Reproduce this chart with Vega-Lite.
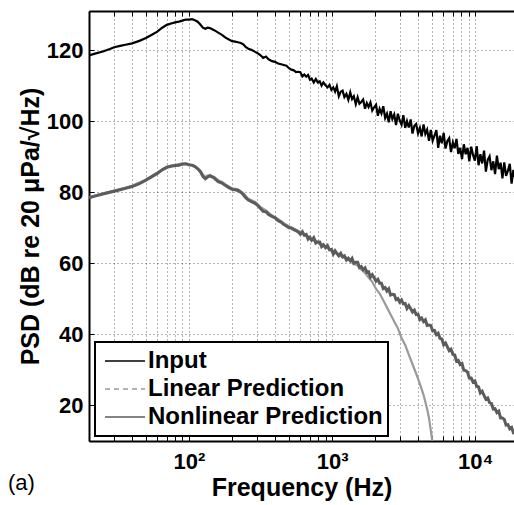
{
"$schema": "https://vega.github.io/schema/vega-lite/v6.json",
"autosize": "none",
"width": 425,
"height": 430,
"padding": {"left": 89, "top": 11, "right": 0, "bottom": 64},
"background": "white",
"config": {
  "font": "Liberation Sans",
  "view": {"stroke": null},
  "axis": {"labelFont": "Liberation Sans", "labelFontSize": 22, "labelFontWeight": "bold", "labelColor": "#000", "titleFont": "Liberation Sans", "titleFontSize": 25, "titleFontWeight": "bold", "titleColor": "#000", "domainColor": "#000", "domainWidth": 2, "tickColor": "#000", "tickWidth": 1, "gridColor": "#000", "gridDash": [1, 3], "gridOpacity": 0.6, "gridWidth": 1}
},
"title": {"text": "(a)", "orient": "bottom", "anchor": "start", "frame": "group", "fontSize": 22, "fontWeight": "normal", "font": "Liberation Sans", "color": "#000", "dx": -81, "offset": -27},
"datasets": {"psd": [
{"s":"Input","f":20,"v":118.5},{"s":"Input","f":22,"v":119.0},{"s":"Input","f":25,"v":119.6},{"s":"Input","f":28,"v":120.3},{"s":"Input","f":30,"v":120.8},{"s":"Input","f":33,"v":121.2},{"s":"Input","f":36,"v":121.5},{"s":"Input","f":40,"v":121.9},{"s":"Input","f":45,"v":122.6},{"s":"Input","f":50,"v":123.4},{"s":"Input","f":55,"v":124.3},{"s":"Input","f":60,"v":125.2},{"s":"Input","f":65,"v":126.3},{"s":"Input","f":70,"v":127.1},{"s":"Input","f":75,"v":127.5},{"s":"Input","f":80,"v":127.8},{"s":"Input","f":85,"v":128.0},{"s":"Input","f":90,"v":128.3},{"s":"Input","f":95,"v":128.6},{"s":"Input","f":100,"v":128.6},{"s":"Input","f":105,"v":128.7},{"s":"Input","f":110,"v":128.4},{"s":"Input","f":115,"v":128.0},{"s":"Input","f":120,"v":127.2},{"s":"Input","f":125,"v":126.3},{"s":"Input","f":130,"v":126.0},{"s":"Input","f":135,"v":126.3},{"s":"Input","f":140,"v":126.2},{"s":"Input","f":150,"v":125.6},{"s":"Input","f":160,"v":124.9},{"s":"Input","f":170,"v":124.3},{"s":"Input","f":180,"v":123.5},{"s":"Input","f":190,"v":123.0},{"s":"Input","f":200,"v":122.5},{"s":"Input","f":210,"v":122.4},{"s":"Input","f":220,"v":122.2},{"s":"Input","f":230,"v":122.0},{"s":"Input","f":240,"v":121.6},{"s":"Input","f":250,"v":120.8},{"s":"Input","f":260,"v":120.4},{"s":"Input","f":275,"v":120.0},{"s":"Input","f":290,"v":119.5},{"s":"Input","f":300,"v":119.2},{"s":"Input","f":315,"v":118.6},{"s":"Input","f":330,"v":117.8},{"s":"Input","f":345,"v":118.2},{"s":"Input","f":360,"v":117.4},{"s":"Input","f":380,"v":116.9},{"s":"Input","f":400,"v":116.7},{"s":"Input","f":420,"v":116.2},{"s":"Input","f":440,"v":116.0},{"s":"Input","f":460,"v":115.8},{"s":"Input","f":480,"v":115.6},{"s":"Input","f":500,"v":114.9},{"s":"Input","f":520,"v":114.5},{"s":"Input","f":540,"v":114.3},{"s":"Input","f":560,"v":113.8},{"s":"Input","f":580,"v":113.9},
{"s":"Input","f":600,"v":113.8},{"s":"Input","f":620,"v":112.6},{"s":"Input","f":640,"v":113.1},{"s":"Input","f":660,"v":112.5},{"s":"Input","f":680,"v":113.0},{"s":"Input","f":700,"v":111.7},{"s":"Input","f":720,"v":112.0},{"s":"Input","f":745,"v":110.9},{"s":"Input","f":770,"v":111.9},{"s":"Input","f":795,"v":110.9},{"s":"Input","f":820,"v":111.2},{"s":"Input","f":845,"v":110.0},{"s":"Input","f":870,"v":110.9},{"s":"Input","f":900,"v":110.1},{"s":"Input","f":930,"v":109.5},{"s":"Input","f":960,"v":110.2},{"s":"Input","f":990,"v":108.8},{"s":"Input","f":1020,"v":109.5},{"s":"Input","f":1050,"v":108.3},{"s":"Input","f":1080,"v":109.8},{"s":"Input","f":1115,"v":107.0},{"s":"Input","f":1150,"v":108.3},{"s":"Input","f":1185,"v":108.6},{"s":"Input","f":1220,"v":106.8},{"s":"Input","f":1260,"v":107.7},{"s":"Input","f":1300,"v":106.0},{"s":"Input","f":1340,"v":108.1},{"s":"Input","f":1380,"v":106.2},{"s":"Input","f":1420,"v":107.0},{"s":"Input","f":1465,"v":104.8},{"s":"Input","f":1510,"v":106.7},{"s":"Input","f":1555,"v":104.9},{"s":"Input","f":1600,"v":105.4},{"s":"Input","f":1650,"v":106.1},{"s":"Input","f":1700,"v":103.5},{"s":"Input","f":1750,"v":105.1},{"s":"Input","f":1800,"v":104.0},{"s":"Input","f":1855,"v":105.3},{"s":"Input","f":1910,"v":103.0},{"s":"Input","f":1970,"v":103.9},{"s":"Input","f":2030,"v":104.6},{"s":"Input","f":2090,"v":101.5},{"s":"Input","f":2150,"v":103.5},{"s":"Input","f":2215,"v":102.2},{"s":"Input","f":2280,"v":104.2},{"s":"Input","f":2350,"v":100.9},{"s":"Input","f":2420,"v":102.1},{"s":"Input","f":2490,"v":99.7},{"s":"Input","f":2565,"v":102.8},{"s":"Input","f":2640,"v":100.6},{"s":"Input","f":2720,"v":101.9},{"s":"Input","f":2800,"v":98.9},{"s":"Input","f":2885,"v":102.1},{"s":"Input","f":2970,"v":100.2},{"s":"Input","f":3060,"v":99.0},{"s":"Input","f":3150,"v":101.7},{"s":"Input","f":3245,"v":98.1},{"s":"Input","f":3340,"v":100.0},{"s":"Input","f":3440,"v":98.2},{"s":"Input","f":3545,"v":100.5},{"s":"Input","f":3650,"v":96.5},{"s":"Input","f":3760,"v":98.7},{"s":"Input","f":3870,"v":99.2},{"s":"Input","f":3990,"v":96.6},{"s":"Input","f":4110,"v":98.1},{"s":"Input","f":4230,"v":95.7},{"s":"Input","f":4360,"v":99.1},{"s":"Input","f":4490,"v":96.4},{"s":"Input","f":4620,"v":97.6},{"s":"Input","f":4760,"v":94.5},{"s":"Input","f":4900,"v":97.5},{"s":"Input","f":5050,"v":94.5},{"s":"Input","f":5200,"v":95.9},{"s":"Input","f":5360,"v":97.5},{"s":"Input","f":5520,"v":92.5},{"s":"Input","f":5680,"v":95.9},{"s":"Input","f":5850,"v":93.8},{"s":"Input","f":6030,"v":96.7},{"s":"Input","f":6210,"v":92.3},{"s":"Input","f":6400,"v":94.4},{"s":"Input","f":6590,"v":95.2},{"s":"Input","f":6780,"v":91.3},{"s":"Input","f":6990,"v":94.0},{"s":"Input","f":7200,"v":92.4},{"s":"Input","f":7410,"v":95.0},{"s":"Input","f":7630,"v":90.8},{"s":"Input","f":7860,"v":92.5},{"s":"Input","f":8100,"v":89.3},{"s":"Input","f":8340,"v":93.5},{"s":"Input","f":8590,"v":90.7},{"s":"Input","f":8850,"v":92.5},{"s":"Input","f":9110,"v":88.7},{"s":"Input","f":9390,"v":92.8},{"s":"Input","f":9670,"v":90.5},{"s":"Input","f":9960,"v":88.9},{"s":"Input","f":10260,"v":93.0},{"s":"Input","f":10570,"v":87.6},{"s":"Input","f":10880,"v":90.7},{"s":"Input","f":11210,"v":88.1},{"s":"Input","f":11550,"v":91.7},{"s":"Input","f":11890,"v":85.8},{"s":"Input","f":12250,"v":89.1},{"s":"Input","f":12620,"v":90.1},{"s":"Input","f":13000,"v":86.2},{"s":"Input","f":13390,"v":88.7},{"s":"Input","f":13790,"v":85.1},{"s":"Input","f":14200,"v":90.3},{"s":"Input","f":14630,"v":86.5},{"s":"Input","f":15070,"v":88.3},{"s":"Input","f":15520,"v":83.9},{"s":"Input","f":15980,"v":88.4},{"s":"Input","f":16460,"v":84.6},{"s":"Input","f":16960,"v":86.1},{"s":"Input","f":17470,"v":88.0},{"s":"Input","f":17990,"v":82.4},{"s":"Input","f":18530,"v":86.3},{"s":"Input","f":19090,"v":84.0},
{"s":"Nonlinear Prediction","f":20,"v":78.4},{"s":"Nonlinear Prediction","f":22,"v":78.9},{"s":"Nonlinear Prediction","f":25,"v":79.5},{"s":"Nonlinear Prediction","f":28,"v":80.0},{"s":"Nonlinear Prediction","f":30,"v":80.3},{"s":"Nonlinear Prediction","f":33,"v":80.7},{"s":"Nonlinear Prediction","f":36,"v":81.1},{"s":"Nonlinear Prediction","f":40,"v":81.6},{"s":"Nonlinear Prediction","f":45,"v":82.4},{"s":"Nonlinear Prediction","f":50,"v":83.4},{"s":"Nonlinear Prediction","f":55,"v":84.4},{"s":"Nonlinear Prediction","f":60,"v":85.3},{"s":"Nonlinear Prediction","f":65,"v":86.3},{"s":"Nonlinear Prediction","f":70,"v":87.0},{"s":"Nonlinear Prediction","f":75,"v":87.3},{"s":"Nonlinear Prediction","f":80,"v":87.5},{"s":"Nonlinear Prediction","f":85,"v":87.6},{"s":"Nonlinear Prediction","f":90,"v":87.9},{"s":"Nonlinear Prediction","f":95,"v":88.0},{"s":"Nonlinear Prediction","f":100,"v":87.7},{"s":"Nonlinear Prediction","f":105,"v":87.6},{"s":"Nonlinear Prediction","f":110,"v":87.2},{"s":"Nonlinear Prediction","f":115,"v":86.6},{"s":"Nonlinear Prediction","f":120,"v":85.8},{"s":"Nonlinear Prediction","f":125,"v":84.5},{"s":"Nonlinear Prediction","f":130,"v":83.8},{"s":"Nonlinear Prediction","f":135,"v":84.3},{"s":"Nonlinear Prediction","f":140,"v":84.6},{"s":"Nonlinear Prediction","f":150,"v":84.0},{"s":"Nonlinear Prediction","f":160,"v":83.0},{"s":"Nonlinear Prediction","f":170,"v":82.6},{"s":"Nonlinear Prediction","f":180,"v":81.9},{"s":"Nonlinear Prediction","f":190,"v":81.3},{"s":"Nonlinear Prediction","f":200,"v":80.8},{"s":"Nonlinear Prediction","f":210,"v":80.7},{"s":"Nonlinear Prediction","f":220,"v":80.5},{"s":"Nonlinear Prediction","f":230,"v":80.0},{"s":"Nonlinear Prediction","f":240,"v":79.3},{"s":"Nonlinear Prediction","f":250,"v":78.4},{"s":"Nonlinear Prediction","f":260,"v":77.8},{"s":"Nonlinear Prediction","f":275,"v":77.3},{"s":"Nonlinear Prediction","f":290,"v":76.9},{"s":"Nonlinear Prediction","f":300,"v":76.4},{"s":"Nonlinear Prediction","f":315,"v":75.5},{"s":"Nonlinear Prediction","f":330,"v":74.6},{"s":"Nonlinear Prediction","f":345,"v":74.5},{"s":"Nonlinear Prediction","f":360,"v":73.7},{"s":"Nonlinear Prediction","f":380,"v":73.2},{"s":"Nonlinear Prediction","f":400,"v":72.8},{"s":"Nonlinear Prediction","f":420,"v":72.0},{"s":"Nonlinear Prediction","f":440,"v":71.6},{"s":"Nonlinear Prediction","f":460,"v":70.9},{"s":"Nonlinear Prediction","f":480,"v":70.5},{"s":"Nonlinear Prediction","f":500,"v":70.0},{"s":"Nonlinear Prediction","f":520,"v":69.9},{"s":"Nonlinear Prediction","f":540,"v":69.5},{"s":"Nonlinear Prediction","f":560,"v":69.2},{"s":"Nonlinear Prediction","f":580,"v":68.8},
{"s":"Nonlinear Prediction","f":600,"v":68.2},{"s":"Nonlinear Prediction","f":620,"v":68.9},{"s":"Nonlinear Prediction","f":640,"v":67.9},{"s":"Nonlinear Prediction","f":660,"v":68.1},{"s":"Nonlinear Prediction","f":680,"v":66.8},{"s":"Nonlinear Prediction","f":700,"v":67.3},{"s":"Nonlinear Prediction","f":720,"v":66.5},{"s":"Nonlinear Prediction","f":745,"v":67.2},{"s":"Nonlinear Prediction","f":770,"v":65.7},{"s":"Nonlinear Prediction","f":795,"v":66.0},{"s":"Nonlinear Prediction","f":820,"v":66.0},{"s":"Nonlinear Prediction","f":845,"v":64.7},{"s":"Nonlinear Prediction","f":870,"v":65.2},{"s":"Nonlinear Prediction","f":900,"v":64.4},{"s":"Nonlinear Prediction","f":930,"v":65.0},{"s":"Nonlinear Prediction","f":960,"v":63.8},{"s":"Nonlinear Prediction","f":990,"v":63.9},{"s":"Nonlinear Prediction","f":1020,"v":62.6},{"s":"Nonlinear Prediction","f":1050,"v":63.5},{"s":"Nonlinear Prediction","f":1080,"v":62.8},{"s":"Nonlinear Prediction","f":1115,"v":62.1},{"s":"Nonlinear Prediction","f":1150,"v":62.8},{"s":"Nonlinear Prediction","f":1185,"v":61.8},{"s":"Nonlinear Prediction","f":1220,"v":62.1},{"s":"Nonlinear Prediction","f":1260,"v":60.9},{"s":"Nonlinear Prediction","f":1300,"v":61.4},{"s":"Nonlinear Prediction","f":1340,"v":60.7},{"s":"Nonlinear Prediction","f":1380,"v":61.4},{"s":"Nonlinear Prediction","f":1420,"v":60.0},{"s":"Nonlinear Prediction","f":1465,"v":60.3},{"s":"Nonlinear Prediction","f":1510,"v":60.3},{"s":"Nonlinear Prediction","f":1555,"v":58.8},{"s":"Nonlinear Prediction","f":1600,"v":59.1},{"s":"Nonlinear Prediction","f":1650,"v":58.2},{"s":"Nonlinear Prediction","f":1700,"v":58.7},{"s":"Nonlinear Prediction","f":1750,"v":57.5},{"s":"Nonlinear Prediction","f":1800,"v":57.6},{"s":"Nonlinear Prediction","f":1855,"v":56.1},{"s":"Nonlinear Prediction","f":1910,"v":56.8},{"s":"Nonlinear Prediction","f":1970,"v":55.9},{"s":"Nonlinear Prediction","f":2030,"v":55.0},{"s":"Nonlinear Prediction","f":2090,"v":55.5},{"s":"Nonlinear Prediction","f":2150,"v":54.4},{"s":"Nonlinear Prediction","f":2215,"v":54.4},{"s":"Nonlinear Prediction","f":2280,"v":52.9},{"s":"Nonlinear Prediction","f":2350,"v":53.2},{"s":"Nonlinear Prediction","f":2420,"v":52.2},{"s":"Nonlinear Prediction","f":2490,"v":52.8},{"s":"Nonlinear Prediction","f":2565,"v":51.1},{"s":"Nonlinear Prediction","f":2640,"v":51.3},{"s":"Nonlinear Prediction","f":2720,"v":51.2},{"s":"Nonlinear Prediction","f":2800,"v":49.8},{"s":"Nonlinear Prediction","f":2885,"v":50.1},{"s":"Nonlinear Prediction","f":2970,"v":49.1},{"s":"Nonlinear Prediction","f":3060,"v":49.7},{"s":"Nonlinear Prediction","f":3150,"v":48.6},{"s":"Nonlinear Prediction","f":3245,"v":48.7},{"s":"Nonlinear Prediction","f":3340,"v":47.3},{"s":"Nonlinear Prediction","f":3440,"v":48.1},{"s":"Nonlinear Prediction","f":3545,"v":47.2},{"s":"Nonlinear Prediction","f":3650,"v":46.3},{"s":"Nonlinear Prediction","f":3760,"v":46.8},{"s":"Nonlinear Prediction","f":3870,"v":45.6},{"s":"Nonlinear Prediction","f":3990,"v":45.7},{"s":"Nonlinear Prediction","f":4110,"v":44.2},{"s":"Nonlinear Prediction","f":4230,"v":44.6},{"s":"Nonlinear Prediction","f":4360,"v":43.6},{"s":"Nonlinear Prediction","f":4490,"v":44.1},{"s":"Nonlinear Prediction","f":4620,"v":42.5},{"s":"Nonlinear Prediction","f":4760,"v":42.6},{"s":"Nonlinear Prediction","f":4900,"v":42.5},{"s":"Nonlinear Prediction","f":5050,"v":41.0},{"s":"Nonlinear Prediction","f":5200,"v":41.1},{"s":"Nonlinear Prediction","f":5360,"v":39.9},{"s":"Nonlinear Prediction","f":5520,"v":40.3},{"s":"Nonlinear Prediction","f":5680,"v":38.9},{"s":"Nonlinear Prediction","f":5850,"v":38.7},{"s":"Nonlinear Prediction","f":6030,"v":37.1},{"s":"Nonlinear Prediction","f":6210,"v":37.6},{"s":"Nonlinear Prediction","f":6400,"v":36.5},{"s":"Nonlinear Prediction","f":6590,"v":35.4},{"s":"Nonlinear Prediction","f":6780,"v":35.8},{"s":"Nonlinear Prediction","f":6990,"v":34.4},{"s":"Nonlinear Prediction","f":7200,"v":34.2},{"s":"Nonlinear Prediction","f":7410,"v":32.5},{"s":"Nonlinear Prediction","f":7630,"v":32.7},{"s":"Nonlinear Prediction","f":7860,"v":31.5},{"s":"Nonlinear Prediction","f":8100,"v":31.8},{"s":"Nonlinear Prediction","f":8340,"v":29.9},{"s":"Nonlinear Prediction","f":8590,"v":29.8},{"s":"Nonlinear Prediction","f":8850,"v":29.4},{"s":"Nonlinear Prediction","f":9110,"v":27.7},{"s":"Nonlinear Prediction","f":9390,"v":27.7},{"s":"Nonlinear Prediction","f":9670,"v":26.6},{"s":"Nonlinear Prediction","f":9960,"v":26.9},{"s":"Nonlinear Prediction","f":10260,"v":25.4},{"s":"Nonlinear Prediction","f":10570,"v":25.2},{"s":"Nonlinear Prediction","f":10880,"v":23.5},{"s":"Nonlinear Prediction","f":11210,"v":24.0},{"s":"Nonlinear Prediction","f":11550,"v":22.8},{"s":"Nonlinear Prediction","f":11890,"v":21.8},{"s":"Nonlinear Prediction","f":12250,"v":22.1},{"s":"Nonlinear Prediction","f":12620,"v":20.8},{"s":"Nonlinear Prediction","f":13000,"v":20.6},{"s":"Nonlinear Prediction","f":13390,"v":19.0},{"s":"Nonlinear Prediction","f":13790,"v":19.1},{"s":"Nonlinear Prediction","f":14200,"v":18.0},{"s":"Nonlinear Prediction","f":14630,"v":18.4},{"s":"Nonlinear Prediction","f":15070,"v":16.5},{"s":"Nonlinear Prediction","f":15520,"v":16.5},{"s":"Nonlinear Prediction","f":15980,"v":16.1},{"s":"Nonlinear Prediction","f":16460,"v":14.5},{"s":"Nonlinear Prediction","f":16960,"v":14.6},{"s":"Nonlinear Prediction","f":17470,"v":13.4},{"s":"Nonlinear Prediction","f":17990,"v":13.8},{"s":"Nonlinear Prediction","f":18530,"v":12.3},{"s":"Nonlinear Prediction","f":19090,"v":12.2},
{"s":"Linear Prediction","f":20,"v":78.6},{"s":"Linear Prediction","f":25,"v":79.7},{"s":"Linear Prediction","f":30,"v":80.5},{"s":"Linear Prediction","f":36,"v":81.3},{"s":"Linear Prediction","f":40,"v":81.8},{"s":"Linear Prediction","f":50,"v":83.5},{"s":"Linear Prediction","f":60,"v":85.5},{"s":"Linear Prediction","f":70,"v":87.2},{"s":"Linear Prediction","f":80,"v":87.7},{"s":"Linear Prediction","f":90,"v":88.1},{"s":"Linear Prediction","f":100,"v":87.9},{"s":"Linear Prediction","f":110,"v":87.4},{"s":"Linear Prediction","f":120,"v":86.1},{"s":"Linear Prediction","f":125,"v":85.0},{"s":"Linear Prediction","f":130,"v":84.3},{"s":"Linear Prediction","f":135,"v":84.7},{"s":"Linear Prediction","f":140,"v":84.9},{"s":"Linear Prediction","f":150,"v":84.3},{"s":"Linear Prediction","f":160,"v":83.4},{"s":"Linear Prediction","f":170,"v":82.9},{"s":"Linear Prediction","f":180,"v":82.2},{"s":"Linear Prediction","f":200,"v":81.1},{"s":"Linear Prediction","f":220,"v":80.8},{"s":"Linear Prediction","f":240,"v":79.7},{"s":"Linear Prediction","f":260,"v":78.2},{"s":"Linear Prediction","f":290,"v":77.3},{"s":"Linear Prediction","f":315,"v":75.9},{"s":"Linear Prediction","f":345,"v":74.9},{"s":"Linear Prediction","f":380,"v":73.5},{"s":"Linear Prediction","f":420,"v":72.4},{"s":"Linear Prediction","f":460,"v":71.3},{"s":"Linear Prediction","f":500,"v":70.4},{"s":"Linear Prediction","f":540,"v":69.8},{"s":"Linear Prediction","f":580,"v":69.1},
{"s":"Linear Prediction","f":600,"v":68.9},{"s":"Linear Prediction","f":640,"v":67.8},{"s":"Linear Prediction","f":680,"v":67.6},{"s":"Linear Prediction","f":720,"v":66.6},{"s":"Linear Prediction","f":770,"v":66.4},{"s":"Linear Prediction","f":820,"v":65.4},{"s":"Linear Prediction","f":870,"v":65.3},{"s":"Linear Prediction","f":930,"v":64.2},{"s":"Linear Prediction","f":990,"v":63.8},{"s":"Linear Prediction","f":1050,"v":62.9},{"s":"Linear Prediction","f":1115,"v":62.7},{"s":"Linear Prediction","f":1185,"v":61.7},{"s":"Linear Prediction","f":1260,"v":61.6},{"s":"Linear Prediction","f":1340,"v":60.6},{"s":"Linear Prediction","f":1420,"v":59.8},{"s":"Linear Prediction","f":1510,"v":59.4},{"s":"Linear Prediction","f":1600,"v":58.3},{"s":"Linear Prediction","f":1700,"v":57.3},{"s":"Linear Prediction","f":1800,"v":56.0},{"s":"Linear Prediction","f":1910,"v":54.8},{"s":"Linear Prediction","f":2030,"v":52.8},{"s":"Linear Prediction","f":2150,"v":51.5},{"s":"Linear Prediction","f":2280,"v":49.6},{"s":"Linear Prediction","f":2420,"v":47.6},{"s":"Linear Prediction","f":2565,"v":45.6},{"s":"Linear Prediction","f":2720,"v":43.6},{"s":"Linear Prediction","f":2885,"v":41.7},{"s":"Linear Prediction","f":3060,"v":39.0},{"s":"Linear Prediction","f":3245,"v":37.0},{"s":"Linear Prediction","f":3440,"v":34.3},{"s":"Linear Prediction","f":3650,"v":31.6},{"s":"Linear Prediction","f":3870,"v":29.0},{"s":"Linear Prediction","f":4110,"v":26.1},{"s":"Linear Prediction","f":4360,"v":23.0},{"s":"Linear Prediction","f":4620,"v":19.0},{"s":"Linear Prediction","f":4760,"v":16.5},{"s":"Linear Prediction","f":4900,"v":13.0},{"s":"Linear Prediction","f":5000,"v":10.5},{"s":"Linear Prediction","f":5100,"v":8.0}
]},
"data": {"name": "psd"},
"layer": [
  {
    "transform": [{"filter": "datum.s == 'Linear Prediction'"}],
    "mark": {"type": "line", "strokeWidth": 2.2, "clip": true},
    "encoding": {
      "x": {"field": "f", "type": "quantitative", "scale": {"type": "log", "domain": [20, 18700], "nice": false},
        "axis": {"orient": "bottom", "values": [20,30,40,50,60,70,80,90,100,200,300,400,500,600,700,800,900,1000,2000,3000,4000,5000,6000,7000,8000,9000,10000],
          "labelExpr": "datum.value == 100 ? '10²' : datum.value == 1000 ? '10³' : datum.value == 10000 ? '10⁴' : ''",
          "labelOverlap": false, "labelFlush": false, "title": "Frequency (Hz)", "grid": true, "tickSize": -5, "labelPadding": 15, "titlePadding": 3}},
      "y": {"field": "v", "type": "quantitative", "scale": {"domain": [10, 131], "nice": false, "zero": false},
        "axis": {"values": [20,40,60,80,100,120], "title": "PSD (dB re 20 μPa/√Hz)", "grid": true, "tickSize": -5, "labelPadding": 11, "titlePadding": 3}},
      "color": {"field": "s", "type": "nominal",
        "scale": {"domain": ["Input", "Linear Prediction", "Nonlinear Prediction"], "range": ["#000000", "#9a9a9a", "#5c5c5c"]},
        "legend": {"title": null, "orient": "none", "legendX": 6, "legendY": 331, "symbolType": "stroke", "symbolSize": 1600, "symbolStrokeWidth": 1.5, "symbolOffset": 4,
          "clipHeight": 28,
          "labelFontSize": 24, "labelFont": "Liberation Sans", "labelFontWeight": "bold", "labelColor": "#000", "labelOffset": 2, "labelLimit": 400,
          "padding": 5, "rowPadding": 0, "strokeColor": "#000", "fillColor": "#fff",
          "encode": {"symbols": {"update": {"strokeDash": {"signal": "datum.label == 'Linear Prediction' ? [5,4] : [1,0]"}}}, "legend": {"update": {"strokeWidth": {"value": 2}}}}}}
    }
  },
  {
    "transform": [{"filter": "datum.s == 'Nonlinear Prediction'"}],
    "mark": {"type": "line", "strokeWidth": 3, "clip": true},
    "encoding": {
      "x": {"field": "f", "type": "quantitative", "axis": null},
      "y": {"field": "v", "type": "quantitative"},
      "color": {"field": "s", "type": "nominal"}
    }
  },
  {
    "transform": [{"filter": "datum.s == 'Input'"}],
    "mark": {"type": "line", "strokeWidth": 2.2, "clip": true},
    "encoding": {
      "x": {"field": "f", "type": "quantitative",
        "axis": {"orient": "top", "values": [20,30,40,50,60,70,80,90,100,200,300,400,500,600,700,800,900,1000,2000,3000,4000,5000,6000,7000,8000,9000,10000], "labels": false, "title": null, "grid": false, "tickSize": -5}},
      "y": {"field": "v", "type": "quantitative"},
      "color": {"field": "s", "type": "nominal"}
    }
  }
],
"resolve": {"axis": {"x": "independent"}}
}
